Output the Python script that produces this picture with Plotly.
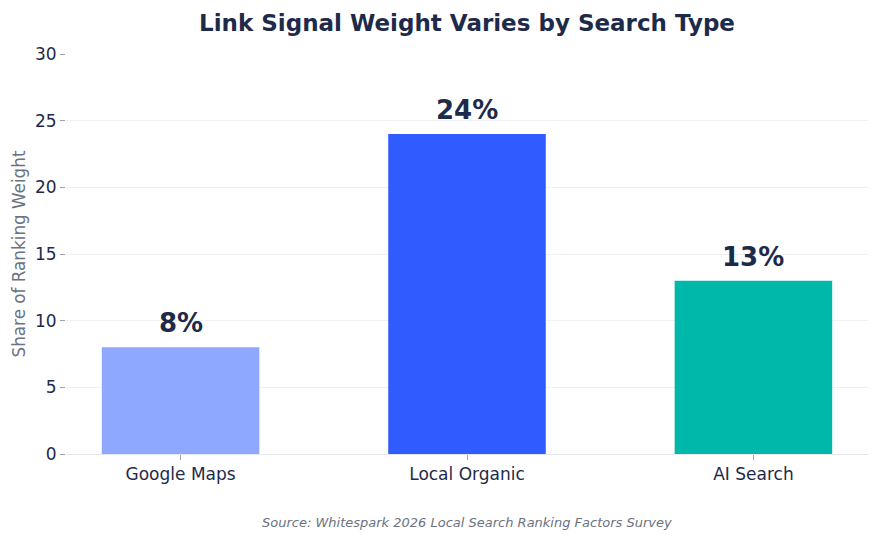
import plotly.graph_objects as go

categories = ["Google Maps", "Local Organic", "AI Search"]
values = [8, 24, 13]
labels = ["8%", "24%", "13%"]
colors = ["#8FA8FF", "#2F5BFF", "#00B8A9"]

fig = go.Figure(go.Bar(
    x=categories, y=values, marker_color=colors, marker_line_width=0,
    cliponaxis=False, width=0.55, hoverinfo="x+y",
))

annotations = [
    dict(x=c, y=v, xref="x", yref="y", text=f"<b>{t}</b>", showarrow=False,
         yanchor="bottom", xanchor="center", yshift=7,
         font=dict(family="DejaVu Sans", size=26, color="#1E2A4A"))
    for c, v, t in zip(categories, values, labels)
]
annotations.append(dict(text="<i>Source: Whitespark 2026 Local Search Ranking Factors Survey</i>",
                        xref="paper", yref="paper", x=0.5, y=-0.17, xanchor="center", yanchor="middle",
                        showarrow=False, font=dict(size=13, color="#6B7280")))

fig.update_layout(
    width=880, height=540,
    margin=dict(l=66, r=12, t=54, b=86),
    plot_bgcolor="white", paper_bgcolor="white",
    font=dict(family="DejaVu Sans", color="#1E2A4A", size=17),
    title=dict(text="<b>Link Signal Weight Varies by Search Type</b>",
               x=0.5, xref="paper", xanchor="center", y=0.958, yanchor="middle",
               font=dict(size=23, color="#1E2A4A")),
    showlegend=False,
    annotations=annotations,
)
fig.update_xaxes(range=[-0.4, 2.4], showline=True, linecolor="#E5E7EB", linewidth=1,
                 ticks="outside", tickcolor="#9CA3AF", ticklen=5,
                 tickfont=dict(size=17, color="#1E2A4A"))
fig.update_yaxes(range=[0, 30], dtick=5, showgrid=True, gridcolor="#F0F1F5",
                 zeroline=False, ticks="outside", tickcolor="#9CA3AF", ticklen=5,
                 tickfont=dict(size=17, color="#1E2A4A"),
                 title=dict(text="Share of Ranking Weight", font=dict(size=16.8, color="#6B7280"), standoff=5))

fig.write_html("out.html")
